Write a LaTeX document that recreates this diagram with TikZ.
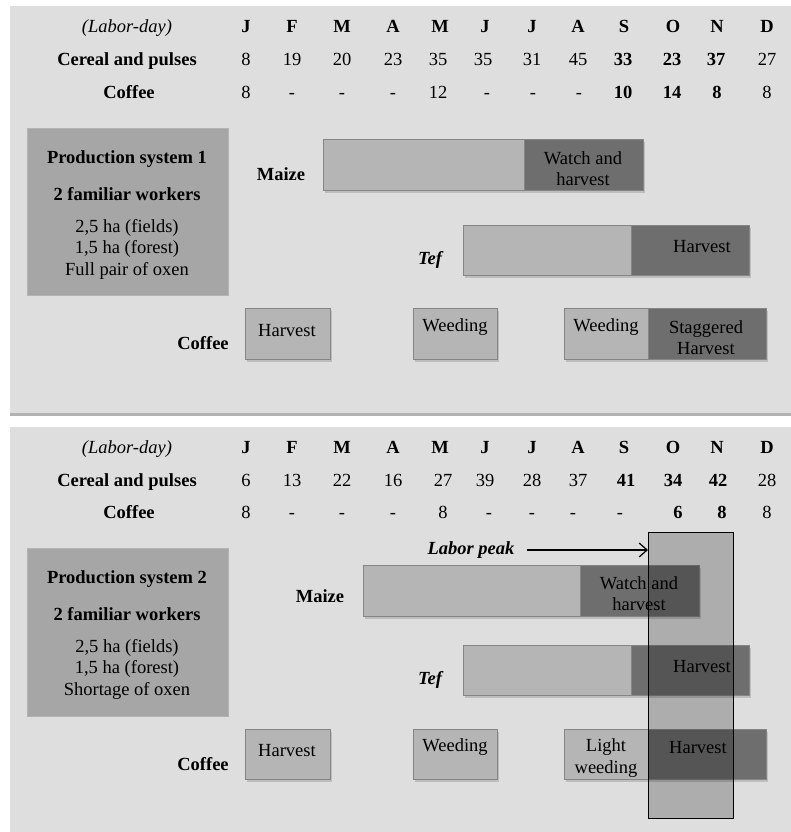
\documentclass[tikz,border=0pt]{standalone}
\usepackage{fontspec}
\setmainfont{Liberation Serif}
\usetikzlibrary{shadows,arrows.meta}
\definecolor{panelbg}{HTML}{DEDEDE}
\definecolor{infobox}{HTML}{A6A6A6}
\definecolor{lightbar}{HTML}{B5B5B5}
\definecolor{darkbar}{HTML}{6E6E6E}
\definecolor{barline}{HTML}{858585}
\newcommand{\dfs}{\fontsize{18.5}{21.5}\selectfont}
\begin{document}
\begin{tikzpicture}[x=1pt,y=-1pt,
  reg/.style={inner sep=0pt, align=center, font=\dfs},
  bld/.style={inner sep=0pt, align=center, font=\dfs\bfseries},
  itl/.style={inner sep=0pt, align=center, font=\dfs\itshape},
  bit/.style={inner sep=0pt, align=center, font=\dfs\bfseries\itshape},
  row/.style={text height=12.6pt, text depth=0pt},
  panel/.style={fill=panelbg, drop shadow={shadow xshift=0pt, shadow yshift=-3pt, opacity=0.6}},
  infobox/.style={fill=infobox, draw=infobox!85!white, line width=0.6pt, anchor=north west},
  barpart/.style={draw=barline, line width=0.8pt, anchor=north west, inner sep=0pt,
     drop shadow={shadow xshift=1.5pt, shadow yshift=-2.5pt, opacity=0.35}},
  lightpart/.style={barpart, fill=lightbar},
  darkpart/.style={barpart, fill=darkbar},
  peakbox/.style={draw=black, line width=1.3pt, fill=black, fill opacity=0.22, anchor=north west, inner sep=0pt},
  peakarrow/.style={-{Straight Barb[length=8pt,width=14pt]}, line width=1.2pt}
]
\useasboundingbox (0,0) rectangle (791,832);
\fill[white] (0,0) rectangle (791,832);

% panels
\path[panel] (10,6) rectangle (805,413);
\path[panel] (10,427) rectangle (805,850);

% ================= PANEL 1 =================
\node[itl,row] (h1) at (127,26) {(Labor-day)};
\node[bld,row] (c1) at (127,59) {Cereal and pulses};
\node[bld,row] (f1) at (129,92) {Coffee};
\foreach \x/\m [count=\i] in {246/J,292/F,342/M,393/A,440/M,485/J,532/J,578/A,624/S,673/O,717/N,767/D}
  \node[bld,row] (ma\i) at (\x,26) {\m};
\foreach \x/\v/\s [count=\i] in {246/8/reg,292/19/reg,342/20/reg,393/23/reg,438/35/reg,483/35/reg,532/31/reg,578/45/reg,623/33/bld,672/23/bld,716/37/bld,767/27/reg}
  \node[\s,row] (ca\i) at (\x,59) {\v};
\foreach \x/\v/\s [count=\i] in {246/8/reg,292/-/reg,342/-/reg,393/-/reg,438/12/reg,487/-/reg,533/-/reg,579/-/reg,623/10/bld,672/14/bld,717/8/bld,767/8/reg}
  \node[\s,row] (fa\i) at (\x,92) {\v};

\node[infobox, minimum width=201, minimum height=167] (ps1) at (27,128) {};
\node[bld] (ps1a) at (127,159) {Production system 1};
\node[bld] (ps1b) at (127,194) {2 familiar workers};
\node[reg] (ps1c) at (127,249) {2,5 ha (fields)\\1,5 ha (forest)\\Full pair of oxen};

\node[bld] (mz1) at (281,174) {Maize};
\node[lightpart, minimum width=201, minimum height=51] (mz1l) at (323,139) {};
\node[darkpart, minimum width=119, minimum height=51] (mz1d) at (524,139) {};
\node[reg] (mz1t) at (583,168.5) {Watch and\\harvest};

\node[bit] (tf1) at (430,260) {Tef};
\node[lightpart, minimum width=168, minimum height=50] (tf1l) at (463,225) {};
\node[darkpart, minimum width=118, minimum height=50] (tf1d) at (631,225) {};
\node[reg] (tf1t) at (702,247) {Harvest};

\node[bld] (cf1) at (203,343) {Coffee};
\node[lightpart, minimum width=85, minimum height=51] (cf1a) at (245,308) {};
\node[reg] (cf1at) at (287,331) {Harvest};
\node[lightpart, minimum width=84, minimum height=51] (cf1b) at (413,308) {};
\node[reg] (cf1bt) at (455,327) {Weeding};
\node[lightpart, minimum width=84, minimum height=51] (cf1c) at (564,308) {};
\node[reg] (cf1ct) at (606,327) {Weeding};
\node[darkpart, minimum width=118, minimum height=51] (cf1d) at (648,308) {};
\node[reg] (cf1dt) at (706,337.5) {Staggered\\Harvest};

% ================= PANEL 2 =================
\node[itl,row] (h2) at (127,447) {(Labor-day)};
\node[bld,row] (c2) at (127,480) {Cereal and pulses};
\node[bld,row] (f2) at (129,512) {Coffee};
\foreach \x/\m [count=\i] in {246/J,292/F,342/M,393/A,440/M,485/J,532/J,578/A,624/S,673/O,717/N,767/D}
  \node[bld,row] (mb\i) at (\x,447) {\m};
\foreach \x/\v/\s [count=\i] in {246/6/reg,292/13/reg,342/22/reg,393/16/reg,443/27/reg,485/39/reg,532/28/reg,578/37/reg,626/41/bld,673/34/bld,718/42/bld,767/28/reg}
  \node[\s,row] (cb\i) at (\x,480) {\v};
\foreach \x/\v/\s [count=\i] in {246/8/reg,292/-/reg,342/-/reg,393/-/reg,443/8/reg,489/-/reg,532/-/reg,573/-/reg,620/-/reg,678/6/bld,722/8/bld,767/8/reg}
  \node[\s,row] (fb\i) at (\x,512) {\v};

\node[infobox, minimum width=201, minimum height=168] (ps2) at (27,548) {};
\node[bld] (ps2a) at (127,579) {Production system 2};
\node[bld] (ps2b) at (127,614) {2 familiar workers};
\node[reg] (ps2c) at (127,669) {2,5 ha (fields)\\1,5 ha (forest)\\Shortage of oxen};

\node[bld] (mz2) at (320,596) {Maize};
\node[lightpart, minimum width=217, minimum height=51] (mz2l) at (363,565) {};
\node[darkpart, minimum width=119, minimum height=51] (mz2d) at (580,565) {};
\node[reg] (mz2t) at (639,593.5) {Watch and\\harvest};

\node[bit] (tf2) at (430,680) {Tef};
\node[lightpart, minimum width=168, minimum height=50] (tf2l) at (463,645) {};
\node[darkpart, minimum width=118, minimum height=50] (tf2d) at (631,645) {};
\node[reg] (tf2t) at (702,667) {Harvest};

\node[bld] (cf2) at (203,764) {Coffee};
\node[lightpart, minimum width=85, minimum height=50] (cf2a) at (245,729) {};
\node[reg] (cf2at) at (287,751) {Harvest};
\node[lightpart, minimum width=84, minimum height=50] (cf2b) at (413,729) {};
\node[reg] (cf2bt) at (455,747) {Weeding};
\node[lightpart, minimum width=84, minimum height=50] (cf2c) at (564,729) {};
\node[reg] (cf2ct) at (606,758) {Light\\weeding};
\node[darkpart, minimum width=118, minimum height=50] (cf2d) at (648,729) {};
\node[reg] (cf2dt) at (698,748) {Harvest};

\node[peakbox, minimum width=85, minimum height=286] (peak) at (648,532) {};
\node[bit] (lp) at (471,550) {Labor peak};
\draw[peakarrow] ([xshift=12pt]lp.east) -- (lp.east -| peak.west);
\end{tikzpicture}
\end{document}
